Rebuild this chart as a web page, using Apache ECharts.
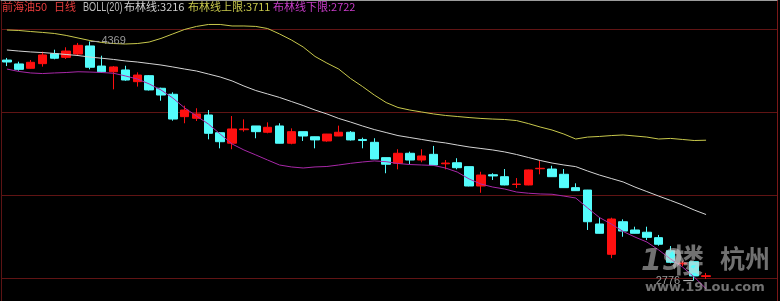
<!DOCTYPE html>
<html><head><meta charset="utf-8">
<script src="https://cdn.jsdelivr.net/npm/echarts/dist/echarts.min.js"></script>
<style>html,body{margin:0;padding:0;background:#000;}#c{width:780px;height:301px;}</style>
</head><body><div id="c"></div>
<script>
// ---- data ----
const categories = Array.from({length: 60}, (_, i) => 'D' + (i + 1));
const opens  = [4245,4219,4190,4221,4287,4263,4285,4339,4205,4167,
                4179,4101,4141,4057,4017,3868,3857,3879,3761,3691,
                3781,3806,3764,3806,3691,3768,3734,3706,3739,3764,
                3716,3697,3595,3557,3624,3579,3617,3554,3561,3535,
                3406,3481,3468,3416,3413,3521,3519,3484,3395,3379,
                3153,2951,3168,3113,3098,3062,2975,2887,2902,2803];
const closes = [4232,4183,4230,4279,4257,4305,4343,4197,4167,4199,
                4112,4145,4046,4012,3852,3912,3886,3757,3701,3786,
                3786,3768,3797,3691,3768,3739,3713,3752,3764,3713,
                3709,3586,3551,3624,3579,3606,3546,3559,3528,3406,
                3479,3473,3413,3419,3513,3524,3468,3395,3375,3168,
                3091,3186,3106,3091,3064,3018,2898,2893,2807,2808];
const lows   = [4205,4174,4188,4201,4250,4252,4279,4183,4161,4050,
                4107,4068,4042,3974,3841,3824,3839,3717,3657,3651,
                3768,3724,3757,3690,3684,3706,3657,3701,3738,3709,
                3657,3585,3491,3517,3551,3564,3545,3517,3517,3404,
                3361,3446,3411,3393,3411,3484,3467,3394,3374,3113,
                3090,2925,3068,3090,3046,3008,2891,2873,2776,2787];
const highs  = [4259,4234,4245,4301,4314,4330,4359,4369,4274,4205,
                4207,4163,4145,4061,4030,3941,3924,3912,3764,3872,
                3850,3806,3830,3824,3790,3768,3735,3753,3808,3772,
                3728,3724,3595,3651,3635,3651,3673,3579,3591,3535,
                3501,3491,3519,3459,3515,3575,3541,3519,3424,3380,
                3198,3195,3184,3135,3135,3080,3006,2907,2902,2827];
const bollMid   = [4312,4305,4299,4295,4289,4282,4275,4265,4257,4249,
                   4239,4232,4222,4212,4199,4185,4172,4152,4132,4106,
                   4072,4042,4019,3996,3969,3942,3912,3886,3856,3832,
                   3806,3782,3762,3742,3729,3716,3703,3693,3679,3666,
                   3656,3646,3633,3616,3596,3576,3559,3546,3535,3506,
                   3479,3456,3433,3399,3369,3339,3310,3280,3246,3216];
const bollUpper = [4445,4442,4435,4429,4422,4409,4392,4375,4362,4355,
                   4352,4355,4365,4389,4419,4449,4469,4482,4482,4472,
                   4472,4469,4455,4419,4379,4332,4269,4225,4185,4122,
                   4069,4012,3962,3929,3912,3899,3886,3876,3869,3862,
                   3856,3852,3849,3842,3822,3799,3779,3752,3719,3732,
                   3736,3742,3746,3739,3732,3719,3723,3716,3709,3711];
const bollLower = [4185,4169,4159,4155,4159,4162,4167,4165,4162,4157,
                   4139,4119,4086,4046,3992,3926,3872,3819,3752,3686,
                   3646,3613,3579,3546,3533,3526,3533,3536,3546,3557,
                   3566,3573,3568,3556,3549,3546,3543,3526,3499,3453,
                   3419,3399,3386,3366,3358,3353,3351,3339,3326,3260,
                   3196,3153,3103,3066,3033,2980,2920,2867,2800,2722];
const gridLevels = [4448, 3896, 3343, 2790];
const priceMin = 2640, priceMax = 4645;
const titleName = '前海油50', periodName = '日线', indName = 'BOLL(20)';
const midLabel = '布林线', upLabel = '布林线上限', lowLabel = '布林线下限';

// ---- chart ----
const candleData = opens.map((o, i) => [o, closes[i], lows[i], highs[i]]);
const last = categories.length - 1;
const CJK = '"Noto Sans CJK SC","Noto Sans",sans-serif';
const LAT = '"Liberation Sans",sans-serif';
const RED = '#ff1010', CYAN = '#54fcfc';

const chart = echarts.init(document.getElementById('c'), null, {renderer: 'canvas'});
chart.setOption({
  backgroundColor: '#000',
  animation: false,
  grid: [
    {left: 1, right: 8.75, top: 0, bottom: 0},
    {left: 1, right: 3, top: 0, bottom: 0}
  ],
  xAxis: [
    {type: 'category', gridIndex: 0, data: categories, max: 64, boundaryGap: true, show: false},
    {type: 'value', gridIndex: 1, min: 0, max: 1, position: 'top',
     axisLine: {show: true, lineStyle: {color: '#9c9c9c', width: 1}},
     axisTick: {show: false}, axisLabel: {show: false}, splitLine: {show: false}}
  ],
  yAxis: [
    {type: 'value', gridIndex: 0, min: priceMin, max: priceMax, show: false},
    {type: 'value', gridIndex: 1, min: priceMin, max: priceMax, position: 'left',
     axisLine: {show: true, lineStyle: {color: '#5c1414', width: 1}},
     axisTick: {show: false}, axisLabel: {show: false}, splitLine: {show: false}},
    {type: 'value', gridIndex: 1, min: priceMin, max: priceMax, position: 'right',
     axisLine: {show: true, lineStyle: {color: '#7a1818', width: 1}},
     axisTick: {show: false}, axisLabel: {show: false}, splitLine: {show: false}}
  ],
  series: [
    {
      type: 'line', xAxisIndex: 1, yAxisIndex: 1, data: [[0, null]], showSymbol: false,
      lineStyle: {width: 0}, silent: true, z: 0,
      markLine: {
        silent: true, z: 0, symbol: ['none', 'none'], label: {show: false},
        lineStyle: {color: '#601414', width: 1, type: 'solid'},
        emphasis: {disabled: true},
        data: gridLevels.map(v => ({yAxis: v}))
      }
    },
    {
      type: 'candlestick', xAxisIndex: 0, yAxisIndex: 0, data: candleData,
      barWidth: 9, z: 2,
      itemStyle: {color: RED, color0: CYAN, borderColor: RED, borderColor0: CYAN, borderWidth: 1},
      markPoint: {
        silent: true,
        data: [
          {type: 'max', valueDim: 'highest', symbol: 'rect', symbolSize: [9, 1], symbolOffset: [5, 0],
           itemStyle: {color: '#a8a8a8'},
           label: {show: true, position: 'right', distance: 2, formatter: '{c}', color: '#9a9a9a',
                   fontSize: 11, fontFamily: LAT}},
          {type: 'min', valueDim: 'lowest', symbol: 'rect', symbolSize: [10, 1], symbolOffset: [-6, 0],
           itemStyle: {color: '#c8c8c8'},
           label: {show: true, position: 'left', distance: 3, formatter: '{c}', color: '#9a9a9a',
                   fontSize: 11, fontFamily: LAT}}
        ]
      }
    },
    {type: 'line', name: midLabel, data: bollMid, symbol: 'none', z: 3, silent: true,
     lineStyle: {color: '#d4d4d4', width: 1}},
    {type: 'line', name: upLabel, data: bollUpper, symbol: 'none', z: 3, silent: true,
     lineStyle: {color: '#c8c84c', width: 1}},
    {type: 'line', name: lowLabel, data: bollLower, symbol: 'none', z: 3, silent: true,
     lineStyle: {color: '#a828a8', width: 1}}
  ],
  graphic: [
    {type: 'text', left: 2, top: 1, z: 10, style: {text: titleName, fill: '#e83c3c', font: '11px ' + CJK}},
    {type: 'text', left: 54, top: 1, z: 10, style: {text: periodName, fill: '#e83c3c', font: '11px ' + CJK}},
    {type: 'text', x: 83, y: 2, scaleX: 0.76, z: 10, style: {text: indName, fill: '#bdbdbd', font: '12px ' + LAT}},
    {type: 'text', left: 124, top: 1, z: 10, style: {text: midLabel + ':' + bollMid[last], fill: '#d0d0d0', font: '11px ' + CJK}},
    {type: 'text', left: 188, top: 1, z: 10, style: {text: upLabel + ':' + bollUpper[last], fill: '#c8c84c', font: '11px ' + CJK}},
    {type: 'text', left: 273, top: 1, z: 10, style: {text: lowLabel + ':' + bollLower[last], fill: '#c83cc8', font: '11px ' + CJK}},
    // image-host watermark
    {type: 'text', left: 641, top: 247, z: 20, silent: true, style: {text: '19', fill: 'rgba(205,205,205,0.55)', font: 'italic bold 30px "DejaVu Sans",sans-serif'}},
    {type: 'text', left: 672, top: 244, z: 20, silent: true, style: {text: '楼', fill: 'rgba(205,205,205,0.55)', font: 'bold 32px ' + CJK}},
    {type: 'text', left: 720, top: 246, z: 20, silent: true, style: {text: '杭州', fill: 'rgba(205,205,205,0.55)', font: 'bold 25px ' + CJK}},
    {type: 'text', left: 645, top: 281, z: 20, silent: true, style: {text: 'www.19Lou.com', fill: 'rgba(205,205,205,0.55)', font: 'bold 13px "DejaVu Sans",sans-serif'}}
  ]
});
</script>
</body></html>
